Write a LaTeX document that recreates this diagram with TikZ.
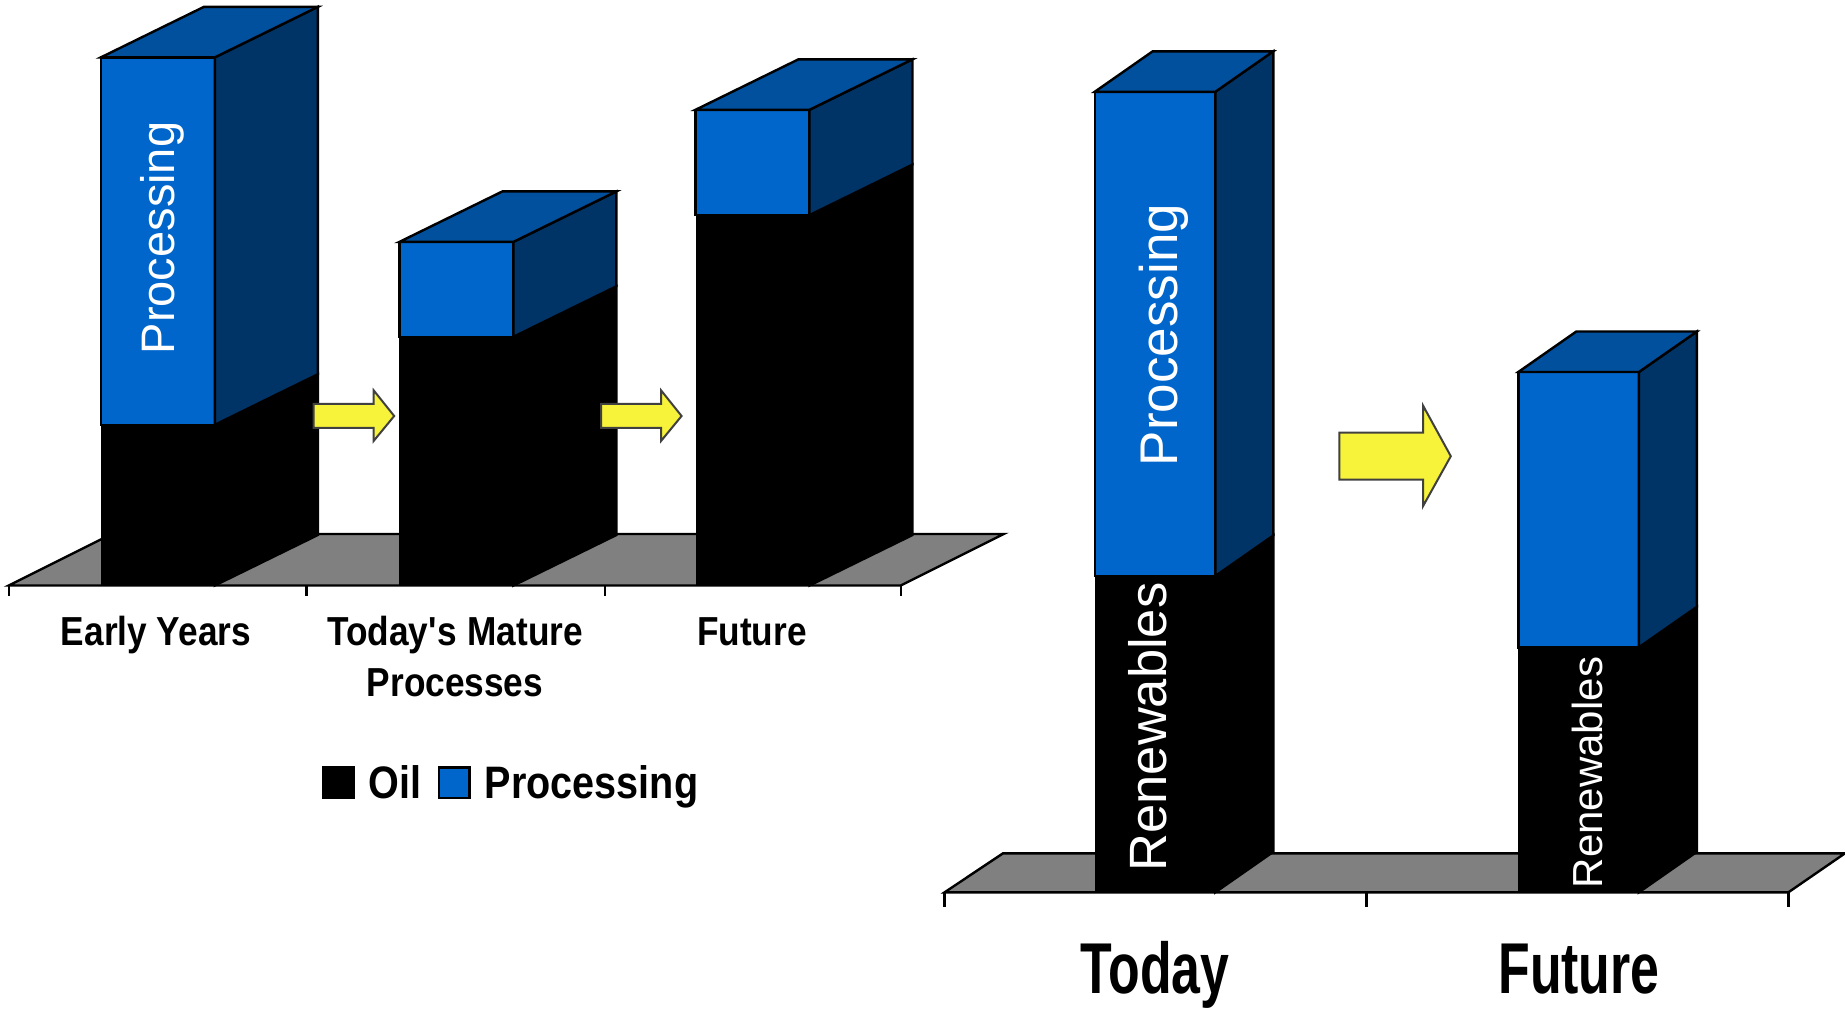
\documentclass[tikz,border=0pt]{standalone}
\usepackage{fontspec}
\setmainfont{Liberation Sans}
\newfontfamily\narrowfont[FakeStretch=0.87]{Liberation Sans}
\newfontfamily\narrowerfont[FakeStretch=0.72]{Liberation Sans}

\definecolor{procfront}{RGB}{0,102,204}
\definecolor{proctop}{RGB}{0,80,158}
\definecolor{procside}{RGB}{0,51,102}
\definecolor{floorgray}{RGB}{128,128,128}
\definecolor{arrowyellow}{RGB}{246,243,58}
\definecolor{arrowline}{RGB}{64,64,64}

% one 3d bar: x0, top, split, bottom, width, dx, dy
\newcommand{\drawbar}[7]{%
  \fill[black] (#1,#3) rectangle ({#1+#5},#4);
  \filldraw[barline, fill=black] ({#1+#5},#3) -- ({#1+#5+#6},{#3+#7}) -- ({#1+#5+#6},{#4+#7}) -- ({#1+#5},#4) -- cycle;
  \filldraw[barline, fill=procfront] (#1,#2) rectangle ({#1+#5},#3);
  \filldraw[barline, fill=procside] ({#1+#5},#2) -- ({#1+#5+#6},{#2+#7}) -- ({#1+#5+#6},{#3+#7}) -- ({#1+#5},#3) -- cycle;
  \filldraw[barline, fill=proctop] (#1,#2) -- ({#1+#6},{#2+#7}) -- ({#1+#5+#6},{#2+#7}) -- ({#1+#5},#2) -- cycle;
}

\begin{document}
\begin{tikzpicture}[x=1pt, y=-1pt, line join=miter,
    barline/.style={draw=black, line width=2.4pt},
    floor/.style={barline, fill=floorgray},
    yarrow/.style={draw=arrowline, line width=2pt, fill=arrowyellow},
    bartext/.style={text=white, anchor=base, rotate=90, inner sep=0pt},
    cat/.style={anchor=base, inner sep=0pt, font=\narrowfont\bfseries\fontsize{40.5}{48}\selectfont},
    bigcat/.style={anchor=base, inner sep=0pt, font=\narrowerfont\bfseries\fontsize{72}{86}\selectfont},
    legtext/.style={anchor=base west, inner sep=0pt, font=\narrowfont\bfseries\fontsize{45.5}{54}\selectfont}]
  \useasboundingbox (0,0) rectangle (1845,1009);

  % left chart
  \filldraw[floor] (8.7,585.5) -- (900.7,585.5) -- (1003.7,534) -- (111.7,534) -- cycle;
  \foreach \tx in {8.7, 306.4, 605, 900.7}
    \draw[barline] (\tx,585.5) -- (\tx,595.5);
  \drawbar{100.8}{57.4}{424.8}{585.5}{114}{103}{-50.5}
  \drawbar{399.4}{241.9}{336.8}{585.5}{114}{103}{-50.5}
  \drawbar{695.5}{109.8}{215.1}{585.5}{114}{103}{-50.5}

  \filldraw[yarrow] (313.6,403.8) -- (373.7,403.8) -- (373.7,390.4) -- (394.2,416) -- (373.7,440.9) -- (373.7,427.9) -- (313.6,427.9) -- cycle;
  \filldraw[yarrow] (601,403.8) -- (661.1,403.8) -- (661.1,390.4) -- (681.6,416) -- (661.1,440.9) -- (661.1,427.9) -- (601,427.9) -- cycle;

  \node[bartext, font=\fontsize{47}{56}\selectfont] (procEarly) at (174,238) {Processing};

  \node[cat] (lblEarly) at (156,645.7) {Early Years};
  \node[cat] (lblMature) at (455,645.7) {Today\textquotesingle s Mature};
  \node[cat] (lblProcesses) at (455,696.7) {Processes};
  \node[cat] (lblFutureA) at (752,645.7) {Future};

  % legend
  \filldraw[barline, fill=black] (322.7,767) rectangle (353.3,798);
  \node[legtext] (legOil) at (368.6,798.3) {Oil};
  \filldraw[barline, fill=procfront] (438.8,767.5) rectangle (469.4,797.7);
  \node[legtext] (legProc) at (484.7,798.3) {Processing};

  % right chart
  \filldraw[floor] (944.6,892.3) -- (1788.4,892.3) -- (1845,853.3) -- (1003,853.3) -- cycle;
  \foreach \tx in {944.6, 1366.5, 1788.4}
    \draw[barline] (\tx,892.3) -- (\tx,906.5);
  \drawbar{1094.7}{91.8}{576}{892.3}{120.6}{58}{-40.5}
  \drawbar{1518.3}{372}{647.3}{892.3}{120.6}{58}{-40.5}

  \filldraw[yarrow] (1339.4,432.5) -- (1423.1,432.5) -- (1423.1,405.7) -- (1450.8,456.2) -- (1423.1,506) -- (1423.1,479.5) -- (1339.4,479.5) -- cycle;

  \node[bartext, font=\fontsize{53}{62}\selectfont] (procToday) at (1177,335) {Processing};
  \node[bartext, font=\fontsize{52.5}{62}\selectfont] (renToday) at (1166,727) {Renewables};
  \node[bartext, font=\fontsize{42}{50}\selectfont] (renFuture) at (1602,772.5) {Renewables};

  \node[bigcat] (lblToday) at (1155,993.3) {Today};
  \node[bigcat] (lblFutureB) at (1579,993.3) {Future};
\end{tikzpicture}
\end{document}
